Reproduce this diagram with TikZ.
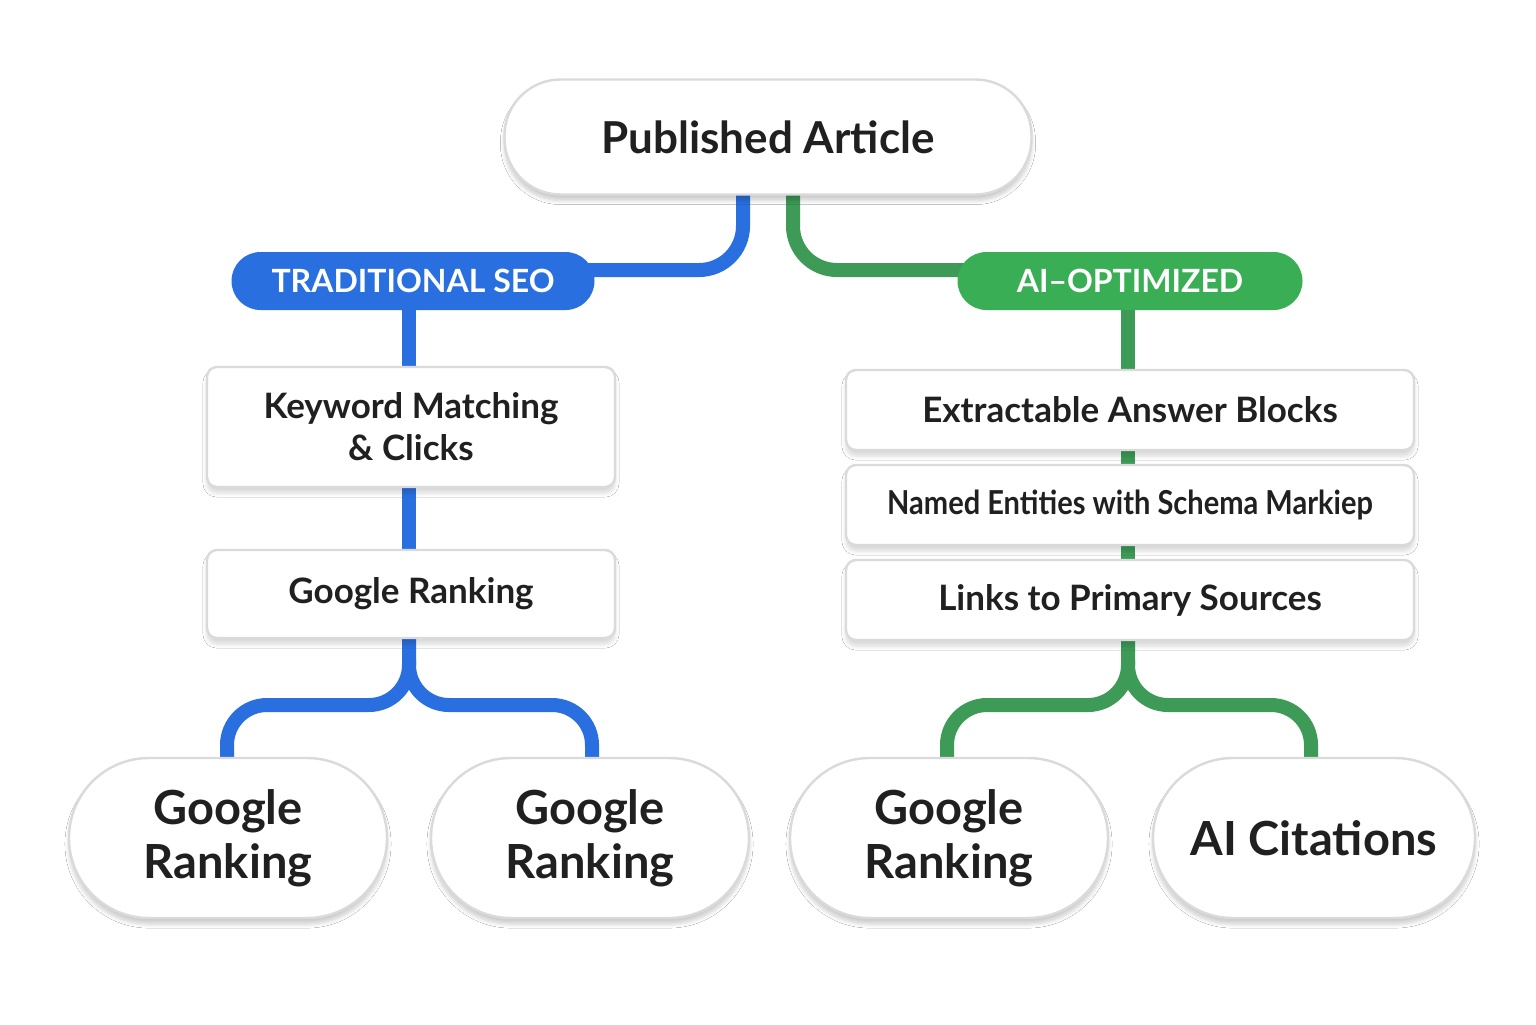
\documentclass[tikz,border=0pt]{standalone}
\usepackage{fontspec}
\setmainfont{Lato}
\usetikzlibrary{shadows.blur}
\definecolor{bl}{HTML}{2A6FE0}
\definecolor{gr}{HTML}{3AAE55}
\definecolor{grd}{HTML}{3D9A57}
\definecolor{bd}{HTML}{DADADA}
\definecolor{tx}{HTML}{202020}
\begin{document}
\begin{tikzpicture}[x=0.5pt,y=-0.5pt,
  pill/.style={draw=bd,line width=1.2pt,fill=white,rounded corners=28pt,align=center,text=tx,font=\bfseries,blur shadow={shadow blur steps=6,shadow xshift=0pt,shadow yshift=-3pt,shadow opacity=20}},
  box/.style={draw=bd,line width=1.2pt,fill=white,rounded corners=5pt,align=center,text=tx,font=\bfseries,blur shadow={shadow blur steps=6,shadow xshift=0pt,shadow yshift=-3pt,shadow opacity=15}},
  tag/.style={rounded corners=14.5pt,text=white,font=\fontsize{16}{19}\bfseries\selectfont,inner sep=0pt},
  bc/.style={draw=bl,line width=7pt},
  gc/.style={draw=grd,line width=7pt}]
\useasboundingbox (0,0) rectangle (1536,1024);
\fill[white] (0,0) rectangle (1536,1024);
% connectors first
\coordinate (bt) at (743,195);
\coordinate (gt) at (793,195);
\draw[bc,rounded corners=22pt] (bt) -- (743,270) -- (560,270);
\draw[gc,rounded corners=22pt] (gt) -- (793,270) -- (990,270);
\draw[bc] (409,300) -- (409,370);
\draw[bc] (409,480) -- (409,555);
\draw[bc,rounded corners=20pt] (409,635) -- (409,705) -- (227,705) -- (227,760);
\draw[bc,rounded corners=20pt] (409,660) -- (409,705) -- (592,705) -- (592,760);
\draw[gc] (1128,300) -- (1128,372);
\draw[gc] (1128,448) -- (1128,468);
\draw[gc] (1128,543) -- (1128,563);
\draw[gc,rounded corners=20pt] (1128,635) -- (1128,705) -- (947,705) -- (947,760);
\draw[gc,rounded corners=20pt] (1128,660) -- (1128,705) -- (1311,705) -- (1311,760);
% nodes
\node[pill,minimum width=263.5pt,minimum height=57.5pt,font=\fontsize{22}{26}\bfseries\selectfont] (pa) at (768,137) {Published Article};
\node[tag,fill=bl,minimum width=181.5pt,minimum height=29pt] (seo) at (413,281) {TRADITIONAL SEO};
\node[tag,fill=gr,minimum width=172.5pt,minimum height=29pt] (ai) at (1130,281) {AI–OPTIMIZED};
\node[box,minimum width=204pt,minimum height=60pt,font=\fontsize{17.5}{21}\bfseries\selectfont] (kw) at (411,427) {Keyword Matching\\\& Clicks};
\node[box,minimum width=204pt,minimum height=44pt,font=\fontsize{17.5}{21}\bfseries\selectfont] (gr1) at (411,594) {Google Ranking};
\node[box,minimum width=284pt,minimum height=40pt,font=\fontsize{17.5}{21}\bfseries\selectfont] (ex) at (1130,410) {Extractable Answer Blocks};
\node[box,minimum width=284pt,minimum height=40pt,font=\fontsize{16.5}{20}\bfseries\selectfont] (ne) at (1130,505) {\addfontfeature{FakeStretch=0.88}Named Entities with Schema Markiep};
\node[box,minimum width=284pt,minimum height=40pt,font=\fontsize{17.5}{21}\bfseries\selectfont] (lk) at (1130,600) {Links to Primary Sources};
\tikzset{bp/.style={pill,rounded corners=40pt,minimum width=159pt,minimum height=80pt,font=\fontsize{23.5}{27}\bfseries\selectfont}}
\node[bp] (b1) at (228,838) {Google\\Ranking};
\node[bp] (b2) at (590,838) {Google\\Ranking};
\node[bp] (b3) at (949,838) {Google\\Ranking};
\node[bp,minimum width=161pt] (b4) at (1314,838) {AI Citations};
\end{tikzpicture}
\end{document}
